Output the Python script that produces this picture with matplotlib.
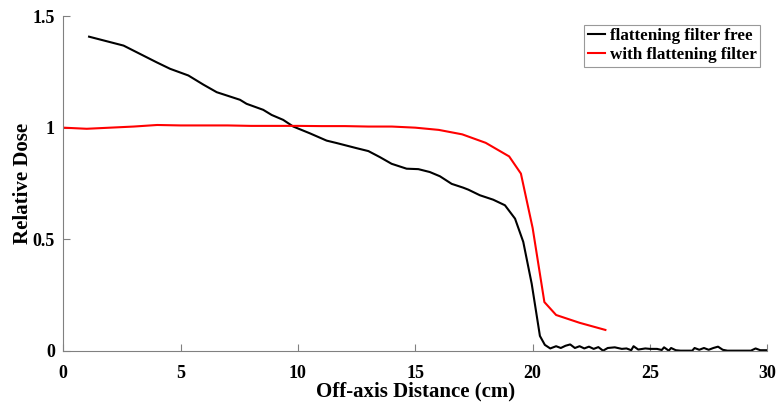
import numpy as np
import matplotlib
matplotlib.use('Agg')
import matplotlib.pyplot as plt

plt.rcParams['font.family'] = ['Liberation Serif', 'DejaVu Serif']
plt.rcParams['font.weight'] = 'bold'

# flattening filter free profile
fff_x = [1.1, 2.57, 3.98, 4.55, 5.33, 5.97, 6.54, 7.53, 7.81, 8.52, 8.88, 9.37, 9.8,
         10.5, 11.22, 11.65, 12.5, 13.0, 13.49, 13.99, 14.63, 15.13, 15.62, 16.05,
         16.55, 17.04, 17.26, 17.75, 18.32, 18.82, 19.25, 19.6, 19.96, 20.31, 20.52,
         20.75, 21.0, 21.2, 21.4, 21.6, 21.8, 22.0, 22.2, 22.4, 22.6, 22.8, 23.0,
         23.2, 23.5, 23.8, 24.0, 24.2, 24.3, 24.5, 24.8, 25.0, 25.3, 25.5, 25.6,
         25.8, 25.9, 26.1, 26.3, 26.8, 26.9, 27.1, 27.3, 27.5, 27.7, 27.9, 28.1,
         28.3, 29.3, 29.5, 29.7, 30.0]
fff_y = [1.408, 1.368, 1.293, 1.264, 1.234, 1.193, 1.159, 1.125, 1.107, 1.08, 1.057, 1.035, 1.005,
         0.975, 0.942, 0.931, 0.908, 0.895, 0.868, 0.838, 0.816, 0.814, 0.801, 0.782,
         0.748, 0.731, 0.722, 0.697, 0.677, 0.652, 0.592, 0.488, 0.30, 0.066, 0.026,
         0.01, 0.02, 0.012, 0.022, 0.028, 0.012, 0.02, 0.01, 0.018, 0.008, 0.016, 0.0,
         0.012, 0.015, 0.008, 0.01, 0.002, 0.02, 0.005, 0.01, 0.008, 0.008, 0.003, 0.015,
         0.0, 0.012, 0.002, 0.0, 0.0, 0.012, 0.004, 0.012, 0.004, 0.012, 0.018, 0.004,
         0.0, 0.0, 0.01, 0.002, 0.002]

# with flattening filter profile
ff_x = [0, 1, 2, 3, 4, 5, 6, 7, 8, 9, 10, 11, 12, 13, 14, 15, 16, 17, 18, 19,
        19.5, 20, 20.5, 21, 22, 23.1]
ff_y = [1.0, 0.995, 1.0, 1.005, 1.012, 1.01, 1.01, 1.01, 1.008, 1.008, 1.008, 1.007,
        1.007, 1.005, 1.005, 1.0, 0.99, 0.97, 0.932, 0.871, 0.794, 0.55, 0.218, 0.16,
        0.125, 0.093]

fig = plt.figure(figsize=(7.81, 4.04), dpi=100)
ax = fig.add_axes([0.081, 0.132, 0.9015, 0.828])

ax.plot(fff_x, fff_y, color='black', lw=1.5, label='flattening filter free')
ax.plot(ff_x, ff_y, color='red', lw=1.5, label='with flattening filter')

ax.set_xlim(0, 30)
ax.set_ylim(0, 1.5)
ax.set_xticks([0, 5, 10, 15, 20, 25, 30])
ax.set_yticks([0, 0.5, 1, 1.5])
ax.set_yticklabels(['0', '0.5', '1', '1.5'])

for s in ['top', 'right']:
    ax.spines[s].set_visible(False)
for s in ['left', 'bottom']:
    ax.spines[s].set_color('#808080')
    ax.spines[s].set_linewidth(0.8)
ax.tick_params(direction='in', length=5, color='#808080', labelsize=13)
ax.tick_params(axis='x', pad=10)
ax.tick_params(axis='y', pad=6)
for lab in ax.get_xticklabels() + ax.get_yticklabels():
    lab.set_fontweight('bold')

ax.set_xlabel('Off-axis Distance (cm)', fontsize=15, fontweight='bold', labelpad=0)
ax.set_ylabel('Relative Dose', fontsize=15, fontweight='bold', labelpad=0)

leg = ax.legend(loc='upper right', bbox_to_anchor=(0.99, 0.975), fontsize=12.3,
                frameon=True, fancybox=False, handlelength=1.0, handletextpad=0.3,
                borderpad=0.2, labelspacing=0.2, borderaxespad=0)
leg.get_frame().set_edgecolor('#808080')
leg.get_frame().set_linewidth(0.8)
for t in leg.get_texts():
    t.set_fontweight('bold')

fig.savefig('out.png', dpi=100)
